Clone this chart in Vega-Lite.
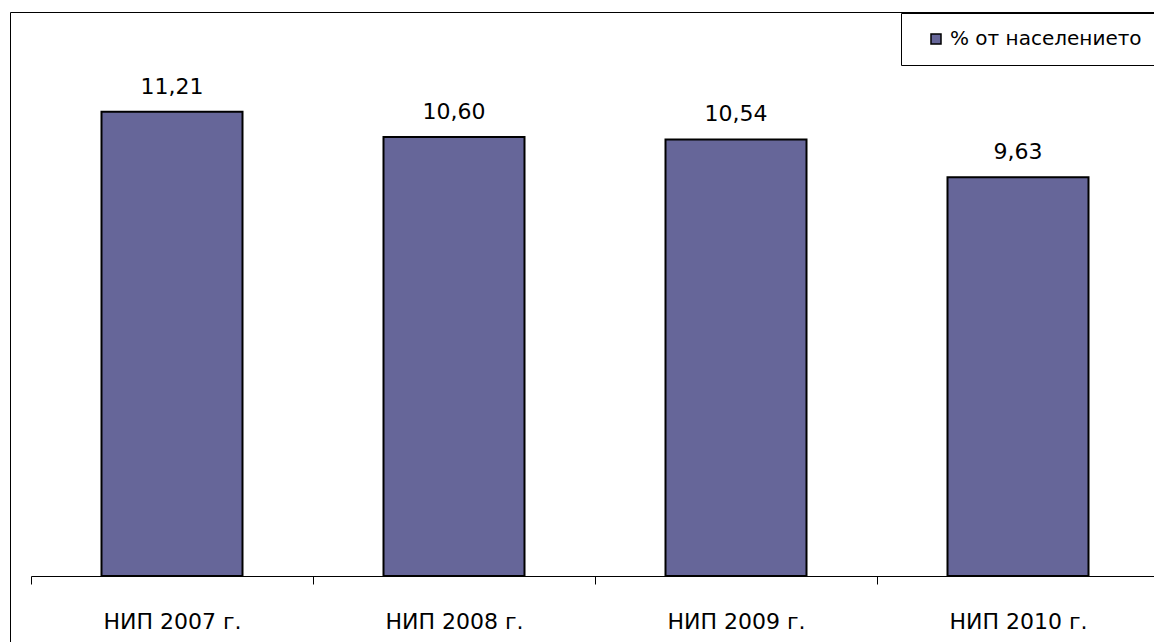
{
  "$schema": "https://vega.github.io/schema/vega-lite/v6.json",
  "width": 1144,
  "height": 630,
  "autosize": {"type": "none"},
  "padding": {"left": 10, "top": 12, "right": 0, "bottom": 0},
  "background": "white",
  "config": {
    "view": {"stroke": "#000000", "strokeWidth": 1},
    "font": "DejaVu Sans",
    "locale": {"number": {"decimal": ",", "thousands": " ", "grouping": [3], "currency": ["", ""]}}
  },
  "data": {"values": [
    {"category": "НИП 2007 г.", "value": 11.21, "series": "% от населението"},
    {"category": "НИП 2008 г.", "value": 10.60, "series": "% от населението"},
    {"category": "НИП 2009 г.", "value": 10.54, "series": "% от населението"},
    {"category": "НИП 2010 г.", "value": 9.63, "series": "% от населението"}
  ]},
  "encoding": {
    "x": {
      "field": "category", "type": "nominal", "sort": null,
      "scale": {"range": [21, 1149], "paddingInner": 0, "paddingOuter": 0},
      "axis": {
        "title": null, "labelAngle": 0, "offset": -66,
        "domainColor": "#000000", "tickColor": "#000000", "tickSize": 8,
        "tickBand": "extent", "labelFontSize": 22, "labelColor": "#000000",
        "labelBaseline": "alphabetic", "labelPadding": 44, "grid": false,
        "labelFont": "DejaVu Sans", "labelLimit": 400
      }
    },
    "y": {
      "field": "value", "type": "quantitative",
      "scale": {"domain": [0, 12], "range": [564, 67], "nice": false, "zero": true},
      "axis": null
    }
  },
  "layer": [
    {
      "mark": {"type": "bar", "stroke": "#000000", "strokeWidth": 2, "width": {"band": 0.5}},
      "encoding": {
        "color": {
          "field": "series", "type": "nominal",
          "scale": {"range": ["#666699"]},
          "legend": {
            "title": null, "orient": "none", "legendX": 891, "legendY": 1,
            "strokeColor": "#000000", "fillColor": "#ffffff", "padding": 16,
            "symbolType": "square", "symbolSize": 100, "symbolStrokeColor": "#000000",
            "symbolStrokeWidth": 1.5, "symbolOffset": 9, "labelOffset": 4,
            "labelFontSize": 20, "labelColor": "#000000", "labelFont": "DejaVu Sans",
            "labelLimit": 400
          }
        }
      }
    },
    {
      "mark": {"type": "text", "dy": -18, "baseline": "alphabetic", "fontSize": 22, "color": "#000000", "font": "DejaVu Sans"},
      "encoding": {
        "text": {"field": "value", "type": "quantitative", "format": ".2f"}
      }
    }
  ]
}
